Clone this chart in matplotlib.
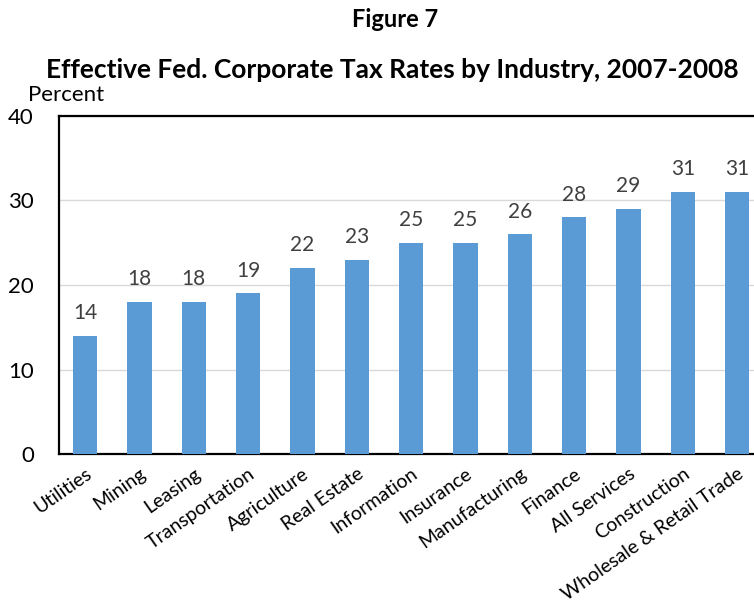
import matplotlib

matplotlib.use("Agg")
import matplotlib.pyplot as plt

industries = [
    "Utilities", "Mining", "Leasing", "Transportation", "Agriculture",
    "Real Estate", "Information", "Insurance", "Manufacturing", "Finance",
    "All Services", "Construction", "Wholesale & Retail Trade",
]
rates = [14, 18, 18, 19, 22, 23, 25, 25, 26, 28, 29, 31, 31]

plt.rcParams["font.family"] = ["Lato", "DejaVu Sans"]

fig = plt.figure(figsize=(7.54, 6.04), dpi=100)
ax = fig.add_axes([0.0782, 0.2483, 0.9218, 0.5597])

x = range(len(industries))
bars = ax.bar(x, rates, width=0.45, color="#5B9BD5", zorder=3)
for b, v in zip(bars, rates):
    ax.text(b.get_x() + b.get_width() / 2, v + 1.5, str(v), ha="center", va="bottom",
            fontsize=15, color="#404040")

ax.set_ylim(0, 40)
ax.set_yticks([0, 10, 20, 30, 40])
ax.set_xlim(-0.48, 12.31)
ax.set_xticks(list(x))
ax.set_xticklabels(industries, rotation=35, ha="right", rotation_mode="anchor", fontsize=14)
ax.tick_params(axis="x", length=0, pad=8)
ax.tick_params(axis="y", length=0, labelsize=16, pad=18)
ax.grid(axis="y", color="#d9d9d9", linewidth=1, zorder=0)
for s in ("left", "top", "bottom"):
    ax.spines[s].set_linewidth(1.6)
ax.spines["right"].set_visible(False)

fig.text(0.524, 0.967, "Figure 7", ha="center", va="center", fontsize=17, fontweight="bold")
fig.text(0.52, 0.884, "Effective Fed. Corporate Tax Rates by Industry, 2007-2008",
         ha="center", va="center", fontsize=19, fontweight="bold")
fig.text(0.037, 0.842, "Percent", ha="left", va="center", fontsize=16)

fig.savefig("out.png", dpi=100)
